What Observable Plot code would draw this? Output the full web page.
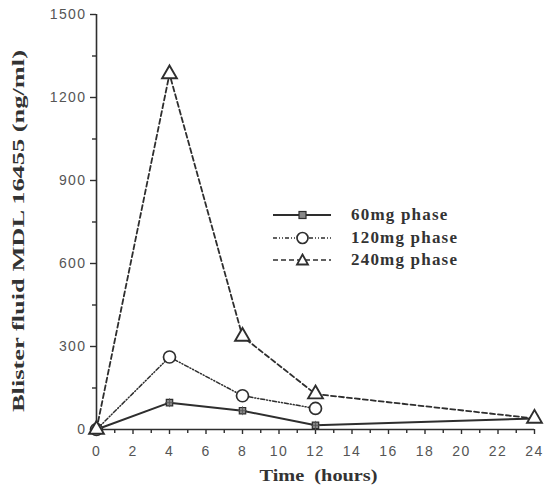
<!DOCTYPE html>
<html>
<head>
<meta charset="utf-8">
<script src="https://cdn.jsdelivr.net/npm/d3@7"></script>
<script src="https://cdn.jsdelivr.net/npm/@observablehq/plot@0.6"></script>
<style>
  html, body { margin: 0; padding: 0; background: #fff; }
  #wrap { position: relative; width: 549px; height: 488px; }
  #legend { position: absolute; left: 272px; top: 204px; font-family: "Liberation Serif", "DejaVu Serif", serif; font-weight: bold; font-size: 17px; letter-spacing: 1.2px; color: #333; }
  .row { display: flex; align-items: center; height: 22.5px; }
  .row svg { margin-right: 19px; }
</style>
</head>
<body>
<div id="wrap"><div id="legend"></div></div>
<script>
const times60 = [0, 4, 8, 12, 24];
const vals60 = [0, 97, 68, 15, 40];
const times120 = [0, 4, 8, 12];
const vals120 = [0, 262, 122, 76];
const times240 = [0, 4, 8, 12, 24];
const vals240 = [0, 1285, 336, 128, 40];
const seriesNames = ["60mg phase", "120mg phase", "240mg phase"];
const yTicks = [0, 300, 600, 900, 1200, 1500];
const yMinorTicks = [150, 450, 750, 1050, 1350];
const xTicks = [0, 2, 4, 6, 8, 10, 12, 14, 16, 18, 20, 22, 24];
const xMinorTicks = [1, 3, 5, 7, 9, 11, 13, 15, 17, 19, 21, 23];
const xLabel = "Time  (hours)";
const yLabel = "Blister fluid MDL 16455 (ng/ml)";

const toRows = (ts, vs, s) => ts.map((t, i) => ({t, v: vs[i], s}));
const d60 = toRows(times60, vals60, seriesNames[0]);
const d120 = toRows(times120, vals120, seriesNames[1]);
const d240 = toRows(times240, vals240, seriesNames[2]);

const ink = "#2e2e2e";
const dashes = ["none", "4,2,1,2,1,2", "5,3"];
const sans = "'Liberation Sans', Arial, sans-serif";
const serif = "'Liberation Serif', 'Times New Roman', serif";

const chart = Plot.plot({
  width: 549,
  height: 488,
  marginLeft: 96,
  marginRight: 15,
  marginTop: 14,
  marginBottom: 59,
  x: {domain: [0, 24]},
  y: {domain: [0, 1500]},
  style: {fontFamily: sans, fontSize: "14px", color: "#555", background: "white"},
  marks: [
    Plot.axisY({ticks: yTicks, tickSize: 6, tickPadding: 4, tickFormat: d3.format("d"), label: null, fontSize: 14, stroke: ink, strokeWidth: 1.4, fill: "#555"}),
    Plot.axisY({ticks: yMinorTicks, tickSize: 4, tickFormat: () => "", label: null, stroke: ink, strokeWidth: 1.4}),
    Plot.axisX({ticks: xTicks, tickSize: 5, tickPadding: 12, label: null, fontSize: 14, stroke: ink, strokeWidth: 1.4, fill: "#555"}),
    Plot.axisX({ticks: xMinorTicks, tickSize: 4, tickFormat: () => "", label: null, stroke: ink, strokeWidth: 1.4}),
    Plot.ruleX([0], {stroke: ink, strokeWidth: 1.6}),
    Plot.ruleY([0], {stroke: ink, strokeWidth: 1.6}),
    Plot.line(d240, {x: "t", y: "v", stroke: ink, strokeWidth: 1.8, strokeDasharray: dashes[2]}),
    Plot.line(d120, {x: "t", y: "v", stroke: ink, strokeWidth: 1.5, strokeDasharray: dashes[1]}),
    Plot.line(d60, {x: "t", y: "v", stroke: ink, strokeWidth: 2}),
    Plot.dot(d60, {x: "t", y: "v", symbol: "square", r: 3.6, fill: "#888", stroke: ink, strokeWidth: 1.2}),
    Plot.dot(d60, {x: "t", y: "v", symbol: "plus", r: 3, stroke: "#555", strokeWidth: 0.8}),
    Plot.dot(d120, {x: "t", y: "v", symbol: "circle", r: 6, fill: "white", stroke: ink, strokeWidth: 1.7}),
    Plot.dot(d240, {x: "t", y: "v", symbol: "triangle", r: 5.5, fill: "white", stroke: ink, strokeWidth: 1.9}),
    Plot.text([xLabel], {frameAnchor: "bottom", lineAnchor: "middle", textAnchor: "middle", dx: 3, dy: 46, fontFamily: serif, fontWeight: "bold", fontSize: 17, fill: "#333"}),
    Plot.text([yLabel], {frameAnchor: "left", lineAnchor: "middle", textAnchor: "middle", dx: -78, dy: 9, rotate: -90, fontFamily: serif, fontWeight: "bold", fontSize: 16, fill: "#333"})
  ]
});
document.getElementById("wrap").prepend(chart);

// stretch axis titles like the reference typesetting
d3.select(chart).selectAll("text")
  .filter(function() { return this.textContent === yLabel; })
  .attr("textLength", 362).attr("lengthAdjust", "spacingAndGlyphs");
d3.select(chart).selectAll("text")
  .filter(function() { return this.textContent === xLabel; })
  .attr("textLength", 118).attr("lengthAdjust", "spacingAndGlyphs");
// wider tracking on the numeric tick labels
d3.select(chart).selectAll("text")
  .filter(function() { return /^\d+$/.test(this.textContent); })
  .style("letter-spacing", "1.4px");

// legend
const legend = d3.select("#legend");
seriesNames.forEach((name, i) => {
  const row = legend.append("div").attr("class", "row");
  const svg = row.append("svg").attr("width", 60).attr("height", 14);
  svg.append("line").attr("x1", 1).attr("x2", 59).attr("y1", 7).attr("y2", 7)
    .attr("stroke", ink).attr("stroke-width", i === 0 ? 2 : 1.5)
    .attr("stroke-dasharray", dashes[i] === "none" ? null : dashes[i]);
  if (i === 0) {
    svg.append("rect").attr("x", 27).attr("y", 3.5).attr("width", 7).attr("height", 7)
      .attr("fill", "#888").attr("stroke", ink).attr("stroke-width", 1.2);
  } else if (i === 1) {
    svg.append("circle").attr("cx", 30.5).attr("cy", 7).attr("r", 5.5)
      .attr("fill", "white").attr("stroke", ink).attr("stroke-width", 1.7);
  } else {
    svg.append("path").attr("d", "M30.5,1.5L36,11.5L25,11.5Z")
      .attr("fill", "white").attr("stroke", ink).attr("stroke-width", 1.8);
  }
  row.append("span").text(name);
});
</script>
</body>
</html>
